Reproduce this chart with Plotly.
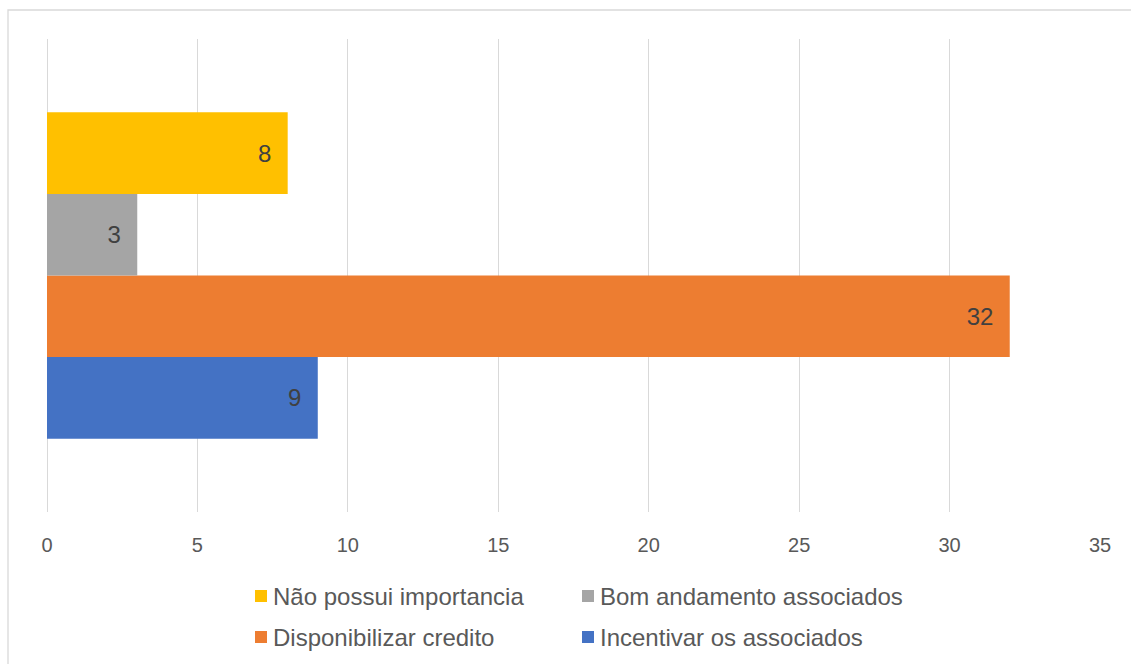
import plotly.graph_objects as go

# Survey answers, listed bottom-to-top in the bar group
category = ["Importância"]
series_names = [
    "Incentivar os associados",
    "Disponibilizar credito",
    "Bom andamento associados",
    "Não possui importancia",
]
series_values = [9, 32, 3, 8]
series_colors = ["#4472C4", "#ED7D31", "#A5A5A5", "#FFC000"]

# Legend order (two columns, two rows)
legend_order = [
    "Não possui importancia",
    "Bom andamento associados",
    "Disponibilizar credito",
    "Incentivar os associados",
]

x_ticks = [0, 5, 10, 15, 20, 25, 30, 35]

FONT = "Liberation Sans, Arial, sans-serif"
W, H = 1131, 664
L, R, T, B = 47, 31, 39, 152
PW, PH = W - L - R, H - T - B

fig = go.Figure()
for name, val, col in zip(series_names, series_values, series_colors):
    fig.add_trace(go.Bar(
        y=category, x=[val], name=name, orientation="h",
        marker=dict(color=col, line=dict(width=0)),
        text=[val], texttemplate="%{x}\u00a0\u00a0",
        textposition="inside", insidetextanchor="end",
        textfont=dict(family=FONT, size=24, color="#404040"),
        showlegend=False, hoverinfo="skip",
    ))

# Hand-built legend: colour squares plus labels, two per row
colors_by_name = dict(zip(series_names, series_colors))
col_square_px = [261, 588]
col_text_px = [271, 598]
row_px = [596, 637]
shapes = []
annotations = []
for i, name in enumerate(legend_order):
    c, r = i % 2, i // 2
    yp = (T + PH - row_px[r]) / PH
    shapes.append(dict(
        type="rect", xref="paper", yref="paper",
        xsizemode="pixel", ysizemode="pixel",
        xanchor=(col_square_px[c] - L) / PW, yanchor=yp,
        x0=-6, x1=6, y0=-6, y1=6,
        fillcolor=colors_by_name[name], line=dict(width=0),
    ))
    annotations.append(dict(
        xref="paper", yref="paper",
        x=(col_text_px[c] - L) / PW, y=yp,
        xanchor="left", yanchor="middle", showarrow=False,
        text=name, font=dict(family=FONT, size=24, color="#595959"),
    ))

# Outer chart border (left and top edges visible)
shapes.append(dict(
    type="rect", xref="paper", yref="paper", layer="below",
    x0=(8 - L) / PW, x1=1.2, y0=-0.6, y1=(T + PH - 10) / PH,
    line=dict(color="#D9D9D9", width=1.3), fillcolor="rgba(0,0,0,0)",
))

fig.update_layout(
    width=W, height=H,
    margin=dict(l=L, r=R, t=T, b=B),
    paper_bgcolor="white", plot_bgcolor="white",
    barmode="group", bargap=0.31, bargroupgap=0,
    shapes=shapes, annotations=annotations,
    font=dict(family=FONT, color="#595959"),
    xaxis=dict(
        range=[0, 35], tickvals=x_ticks, ticktext=[str(v) for v in x_ticks],
        showgrid=True, gridcolor="#D9D9D9", gridwidth=1.3,
        zeroline=True, zerolinecolor="#D9D9D9", zerolinewidth=1.3,
        showline=False, ticks="outside", ticklen=15, tickcolor="rgba(0,0,0,0)",
        tickfont=dict(family=FONT, size=20, color="#595959"),
    ),
    yaxis=dict(
        showticklabels=False, showgrid=False, zeroline=False,
        showline=False, ticks="", range=[-0.5, 0.5],
    ),
)

fig.write_html("out.html")
